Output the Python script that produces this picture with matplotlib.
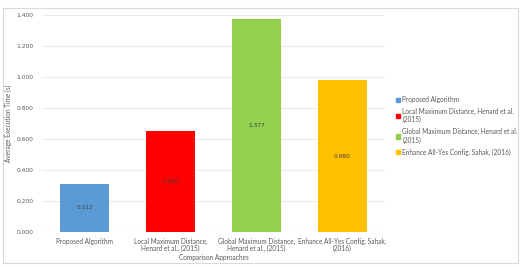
import matplotlib.pyplot as plt
from matplotlib.patches import Rectangle

############################################
#                  DATA                    #
############################################

approaches = ['Proposed Algorithm',
              'Local Maximum Distance,\nHenard et al., (2015)',
              'Global Maximum Distance,\nHenard et al., (2015)',
              'Enhance All-Yes Config. Sahak,\n(2016)']
legend_labels = ['Proposed Algorithm',
                 'Local Maximum Distance, Henard et al.\n(2015)',
                 'Global Maximum Distance, Henard et al.\n(2015)',
                 'Enhance All-Yes Config. Sahak, (2016)']
exec_time = [0.312, 0.650, 1.377, 0.980]
y_ticks = [0.0, 0.2, 0.4, 0.6, 0.8, 1.0, 1.2, 1.4]

colors = ['#5B9BD5', '#FF0000', '#92D050', '#FFC000']
txt = '#595959'

plt.rcParams['font.family'] = ['Lato', 'DejaVu Sans']

############################################
#                PLOTTING                  #
############################################

W, H = 522, 267
fig = plt.figure(figsize=(W/100, H/100), dpi=100)
ax = fig.add_axes([42/W, 1-232/H, (385-42)/W, (232-15)/H])

x = range(len(exec_time))
bars = ax.bar(x, exec_time, width=0.57, color=colors, zorder=2)
for b, v in zip(bars, exec_time):
    ax.text(b.get_x()+b.get_width()/2, v/2, '%.3f' % v, ha='center', va='center',
            fontsize=4.2, color='#404040', family='DejaVu Sans', zorder=3)

ax.set_xlim(-0.5, len(exec_time)-0.5)
ax.set_ylim(0, 1.4)
ax.set_yticks(y_ticks)
ax.set_yticklabels(['%.3f' % t for t in y_ticks], family='DejaVu Sans', fontsize=4.3)
ax.set_xticks(list(x))
ax.set_xticklabels(approaches, linespacing=1.05, fontsize=4.7)
ax.tick_params(axis='y', length=0, labelcolor=txt, pad=6)
ax.tick_params(axis='x', length=0, labelcolor=txt, pad=4)
ax.grid(True, axis='y', color='#E6E6E6', linewidth=0.6, zorder=0)
for s in ax.spines.values():
    s.set_visible(False)
ax.axhline(0, color='#D9D9D9', linewidth=0.8, zorder=1)

ax.set_xlabel('Comparison Approaches', fontsize=4.7, color=txt, labelpad=1.5)
ax.set_ylabel('Average Execution Time (s)', fontsize=4.7, color=txt, labelpad=3)

handles = [Rectangle((0, 0), 1, 1, color=c) for c in colors]
fig.legend(handles, legend_labels, loc='upper left', bbox_to_anchor=(390/W, 1-90/H),
           frameon=False, fontsize=4.7, labelcolor=txt, handlelength=0.6, handleheight=0.6,
           handletextpad=0.4, labelspacing=0.75)

# chart border
fig.patches.append(Rectangle((3/W, 4/H), (W-7)/W, (H-12)/H, transform=fig.transFigure,
                             fill=False, edgecolor='#D9D9D9', linewidth=0.8))

plt.savefig('out.png', dpi=100)
